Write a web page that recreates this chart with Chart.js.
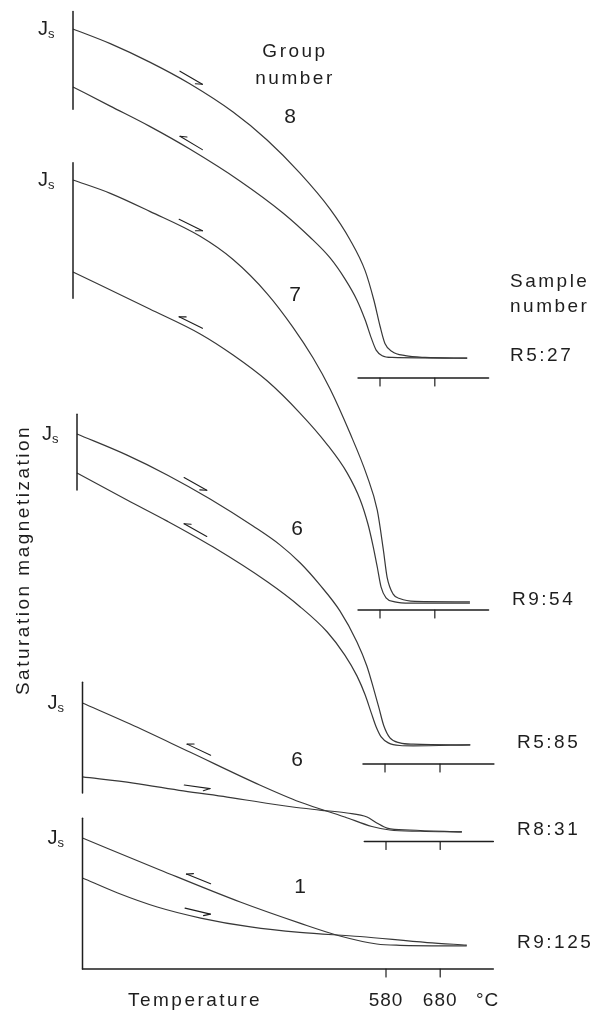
<!DOCTYPE html>
<html>
<head>
<meta charset="utf-8">
<title>Thermomagnetic curves</title>
<script src="https://cdn.jsdelivr.net/npm/chart.js@4.4.1/dist/chart.umd.min.js"></script>
<style>
  html, body { margin: 0; padding: 0; background: #fff; }
  #wrap { position: relative; width: 600px; height: 1017px; }
</style>
</head>
<body>
<div id="wrap"><canvas id="thermo"></canvas></div>
<script>
// Saturation magnetization Js (relative, % of the larger room-temperature value) against temperature (°C)
const samples = ['R5:27', 'R9:54', 'R5:85', 'R8:31', 'R9:125'];
const groups = ['8', '7', '6', '6', '1'];
const tempTicks = [580, 680];

const r527Heating = [[20, 100], [88, 95.8], [160, 90.5], [233, 84.3], [312, 76.2], [374, 68.2], [434, 58.7], [489, 48.4], [525, 39.7], [553, 30.7], [569, 22.2], [580, 14.9], [589, 9.9], [602, 7.6], [626, 6.4], [662, 5.9], [739, 5.7]];
const r527Cooling = [[20, 83.4], [88, 77.9], [160, 72.1], [233, 65.6], [325, 56.4], [403, 47.3], [452, 40.4], [489, 34.4], [516, 28.4], [538, 22.3], [553, 16.6], [564, 11.5], [573, 8], [584, 6.4], [602, 5.9], [739, 5.7]];

const r954Heating = [[20, 100], [88, 96.9], [160, 92.7], [252, 86.9], [312, 81.5], [374, 73.6], [421, 65.8], [458, 58.6], [489, 51.4], [525, 41.2], [556, 31.3], [575, 23.2], [586, 14.1], [593, 7.6], [604, 3.7], [617, 2.6], [644, 2], [744, 1.9]];
const r954Cooling = [[20, 78.6], [160, 70], [252, 64.2], [312, 59.3], [374, 53.3], [434, 45.8], [483, 38.6], [520, 31.9], [544, 25.6], [558, 20], [567, 15.1], [575, 10], [582, 5.3], [591, 2.8], [607, 1.9], [635, 1.6], [744, 1.6]];

const r585Heating = [[20, 100], [111, 93.6], [184, 87.6], [262, 80.3], [340, 72.1], [389, 66.4], [426, 60.9], [462, 54.2], [498, 46.4], [529, 37], [547, 29.7], [560, 22.4], [569, 17], [578, 11.5], [589, 7.9], [607, 6.4], [631, 6], [735, 5.8]];
const r585Cooling = [[20, 88.2], [111, 80], [184, 73.6], [267, 65.8], [366, 55.2], [426, 47.6], [475, 40], [507, 33], [529, 26.7], [544, 20.9], [555, 15.5], [564, 11.2], [573, 8.2], [586, 6.4], [607, 5.6], [631, 5.5], [735, 5.8]];

const r831Cooling = [[20, 100], [108, 84.8], [218, 64.6], [347, 40.8], [421, 28.5], [504, 17.7], [554, 10.8], [587, 8.3], [643, 7.4], [720, 6.9]];
const r831Heating = [[20, 46.6], [114, 42.2], [206, 36.5], [287, 32.1], [408, 24.9], [458, 22.7], [508, 20.6], [545, 17.7], [563, 13.4], [582, 9.7], [624, 8.3], [720, 6.9]];

const r9125Cooling = [[20, 100], [163, 75.6], [311, 51.1], [421, 35], [495, 25.2], [563, 19.1], [606, 18.1], [729, 17.6]];
const r9125Heating = [[20, 69.5], [85, 58], [158, 47.3], [238, 38.9], [330, 32.1], [421, 27.9], [532, 24.8], [656, 20.2], [729, 18.3]];

const heating = [r527Heating, r954Heating, r585Heating, r831Heating, r9125Heating];
const cooling = [r527Cooling, r954Cooling, r585Cooling, r831Cooling, r9125Cooling];

// where each panel sits on the page: pixel of 20 °C and 580 °C, pixel of Js = 0 and Js = 100
const panelLayout = [
    { x20: 73, x580: 380, y0: 378, y100: 29, axisTop: 105, axisBottom: 77, labelX: 510, groupX: 290, groupY: 115 },
    { x20: 73, x580: 380, y0: 610, y100: 180, axisTop: 104, axisBottom: 72.5, labelX: 512, groupX: 295, groupY: 293 },
    { x20: 77, x580: 385, y0: 764, y100: 434, axisTop: 106, axisBottom: 83, labelX: 517, groupX: 297, groupY: 527 },
    { x20: 82.5, x580: 386, y0: 841.5, y100: 703, axisTop: 115, axisBottom: 35, labelX: 517, groupX: 297, groupY: 758 },
    { x20: 82.5, x580: 386, y0: 969, y100: 838, axisTop: 115, axisBottom: 0, labelX: 517, groupX: 300, groupY: 885 }
];

const W = 600, H = 1017;
const ink = '#1e1e1e';
const curveInk = '#383838';
const font = '"Liberation Sans", Arial, Helvetica, sans-serif';

const scales = {};
panelLayout.forEach((p, i) => {
    const kx = (p.x580 - p.x20) / 560;
    const ky = (p.y0 - p.y100) / 100;
    scales['x' + i] = {
        type: 'linear', axis: 'x', position: 'bottom', display: false, bounds: 'data',
        min: 20 - p.x20 / kx, max: 20 + (W - p.x20) / kx
    };
    scales['y' + i] = {
        type: 'linear', axis: 'y', position: 'left', display: false, bounds: 'data',
        min: -(H - p.y0) / ky, max: p.y0 / ky
    };
});

const datasets = [];
samples.forEach((name, i) => {
    [['heating', heating[i]], ['cooling', cooling[i]]].forEach(([run, series]) => {
        datasets.push({
            label: name + ' ' + run,
            data: series.map(([t, j]) => ({ x: t, y: j })),
            xAxisID: 'x' + i,
            yAxisID: 'y' + i,
            showLine: true,
            borderColor: curveInk,
            borderWidth: 1.2,
            pointRadius: 0,
            cubicInterpolationMode: 'monotone',
            clip: false
        });
    });
});

function jAt(series, t) {
    for (let k = 1; k < series.length; k++) {
        if (t <= series[k][0]) {
            const [t0, j0] = series[k - 1];
            const [t1, j1] = series[k];
            return j0 + (j1 - j0) * (t - t0) / (t1 - t0);
        }
    }
    return series[series.length - 1][1];
}

function segment(ctx, x1, y1, x2, y2) {
    ctx.beginPath();
    ctx.moveTo(x1, y1);
    ctx.lineTo(x2, y2);
    ctx.stroke();
}

// half-headed arrow laid along the curve, a little above it
function harpoon(ctx, xs, ys, series, t, dir) {
    const ax = xs.getPixelForValue(t - 15), ay = ys.getPixelForValue(jAt(series, t - 15));
    const bx = xs.getPixelForValue(t + 15), by = ys.getPixelForValue(jAt(series, t + 15));
    const len = Math.hypot(bx - ax, by - ay);
    const ux = (bx - ax) / len, uy = (by - ay) / len;
    const nx = uy, ny = -ux;
    const cx = xs.getPixelForValue(t) + nx * 6;
    const cy = ys.getPixelForValue(jAt(series, t)) + ny * 6;
    const half = 13;
    const tipX = cx + dir * ux * half, tipY = cy + dir * uy * half;
    segment(ctx, cx - ux * half, cy - uy * half, cx + ux * half, cy + uy * half);
    const side = dir > 0 ? -1 : 1;
    const bxDir = -dir * ux, byDir = -dir * uy;
    const c = Math.cos(0.45), s = Math.sin(0.45);
    segment(ctx, tipX, tipY,
        tipX + 7 * (bxDir * c + side * nx * s),
        tipY + 7 * (byDir * c + side * ny * s));
}

function text(ctx, str, x, y, size, align, spacing) {
    ctx.font = size + 'px ' + font;
    ctx.textAlign = align;
    ctx.letterSpacing = (spacing || 0) + 'px';
    ctx.fillText(str, x, y);
}

const thermoDecor = {
    id: 'thermoDecor',
    afterDatasetsDraw(chart) {
        const ctx = chart.ctx;
        ctx.save();
        ctx.strokeStyle = ink;
        ctx.fillStyle = ink;
        ctx.lineCap = 'round';
        ctx.textBaseline = 'alphabetic';

        panelLayout.forEach((p, i) => {
            const xs = chart.scales['x' + i];
            const ys = chart.scales['y' + i];
            const xAxis = xs.getPixelForValue(20);
            const yZero = ys.getPixelForValue(0);
            const last = i === panelLayout.length - 1;

            ctx.lineWidth = 1.5;
            segment(ctx, xAxis, ys.getPixelForValue(p.axisTop), xAxis, ys.getPixelForValue(p.axisBottom));
            segment(ctx, xs.getPixelForValue(last ? 20 : 540), yZero, xs.getPixelForValue(778), yZero);
            ctx.lineWidth = 1.2;
            tempTicks.forEach(t => {
                const x = xs.getPixelForValue(t);
                segment(ctx, x, yZero, x, yZero + 8);
            });

            const yTop = ys.getPixelForValue(100);
            text(ctx, 'J', xAxis - 35, yTop + 6, 20, 'left', 0);
            text(ctx, 's', xAxis - 25, yTop + 9, 13, 'left', 0);

            text(ctx, groups[i], p.groupX, p.groupY + 8, 21, 'center', 0);

            const tail = heating[i][heating[i].length - 1][1];
            ctx.textBaseline = 'middle';
            text(ctx, samples[i], p.labelX, ys.getPixelForValue(tail) - 2, 19, 'left', 2.5);
            ctx.textBaseline = 'alphabetic';

            ctx.lineWidth = 1.1;
            harpoon(ctx, xs, ys, heating[i], 230, 1);
            harpoon(ctx, xs, ys, cooling[i], 230, -1);

            if (last) {
                tempTicks.forEach(t => text(ctx, String(t), xs.getPixelForValue(t), 1006, 19, 'center', 1));
                text(ctx, '°C', 476, 1006, 19, 'left', 1);
            }
        });

        text(ctx, 'Temperature', 195, 1006, 19, 'center', 2.5);
        text(ctx, 'Group', 295, 57, 19, 'center', 2.5);
        text(ctx, 'number', 295, 84, 19, 'center', 2.5);
        text(ctx, 'Sample', 510, 287, 19, 'left', 2.5);
        text(ctx, 'number', 510, 312, 19, 'left', 2.5);

        ctx.translate(29, 560);
        ctx.rotate(-Math.PI / 2);
        text(ctx, 'Saturation magnetization', 0, 0, 19, 'center', 2.5);
        ctx.restore();
    }
};

new Chart(document.getElementById('thermo'), {
    type: 'scatter',
    data: { datasets },
    options: {
        responsive: true,
        maintainAspectRatio: false,
        animation: false,
        layout: { padding: 0 },
        plugins: { legend: { display: false }, tooltip: { enabled: false } },
        scales
    },
    plugins: [thermoDecor]
});
</script>
</body>
</html>
